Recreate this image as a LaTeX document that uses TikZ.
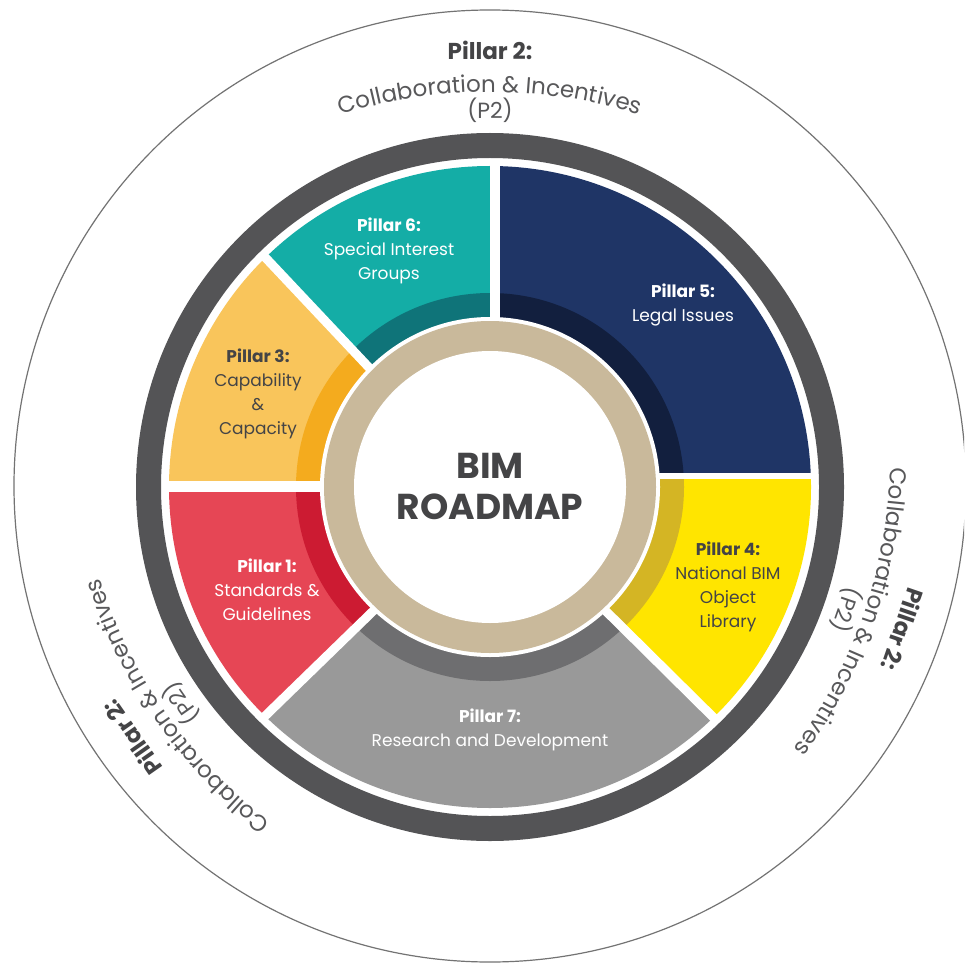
\documentclass[tikz,border=0pt]{standalone}
\usepackage{fontspec}
\setmainfont{Poppins}
\usetikzlibrary{decorations.text}
\definecolor{cteal}{HTML}{14ADA6}
\definecolor{ctealD}{HTML}{0F7479}
\definecolor{cnavy}{HTML}{1F3566}
\definecolor{cnavyD}{HTML}{121F3E}
\definecolor{corange}{HTML}{F9C55B}
\definecolor{corangeD}{HTML}{F4AB1E}
\definecolor{cred}{HTML}{E64655}
\definecolor{credD}{HTML}{CC1B32}
\definecolor{cgray}{HTML}{999999}
\definecolor{cgrayD}{HTML}{6E6E70}
\definecolor{cyellow}{HTML}{FFE500}
\definecolor{cyellowD}{HTML}{D4B524}
\definecolor{cbeige}{HTML}{C9B99B}
\definecolor{cring}{HTML}{545456}
\definecolor{ctext}{HTML}{444446}
\definecolor{ctextB}{HTML}{58585A}
\newcommand\mysector[3]{\begin{scope}\clip #1;
  \fill[#2] (C) circle[radius=321pt];
  \fill[#3] (C) circle[radius=194pt];\end{scope}}
\newcommand\outerblock{%
  \node[font=\bfseries\fontsize{23}{23}\selectfont, text=ctext, inner sep=0] (p2a\blk) at (0,437) {Pillar 2:};
  \path[decorate, decoration={text along path, text align=center,
     text={|\fontsize{23}{23}\selectfont\color{ctextB}|Collaboration {\&} Incentives}}]
     (-171.0,364.8) arc[start angle=110, end angle=70, radius=500];
  \node[font=\fontsize{22}{22}\selectfont, text=ctextB, inner sep=0] (p2b\blk) at (0,377) {(P2)};}
\tikzset{lbl/.style={align=center, font=\fontsize{17}{24}\selectfont, inner sep=0}}
\begin{document}
\begin{tikzpicture}[x=1pt,y=-1pt]
\useasboundingbox (0,0) rectangle (964,965);
\clip (0,0) rectangle (964,965);
\fill[white] (0,0) rectangle (964,965);
\coordinate (C) at (490,487);
% sectors
\mysector{(495,337) -- (495,-200) -- (1200,-200) -- (1200,475.5) -- (640,475.5) -- cycle}{cnavy}{cnavyD}
\mysector{(640,475.5) -- (1200,475.5) -- (1200,1200) -- (1135,1135) -- (578.5,584) -- cycle}{cyellow}{cyellowD}
\mysector{(578.5,584) -- (1135,1135) -- (-158,1127) -- (404,581) -- cycle}{cgray}{cgrayD}
\mysector{(404,581) -- (-158,1127) -- (-300,486) -- (340,486) -- cycle}{cred}{credD}
\mysector{(340,486) -- (-300,486) -- (-122,-154) -- (392,392) -- cycle}{corange}{corangeD}
\mysector{(392,392) -- (-122,-154) -- (495,-200) -- (495,337) -- cycle}{cteal}{ctealD}
% gaps
\draw[white, line width=10pt] (495,337) -- (495,163);
\draw[white, line width=6pt] (640,475.5) -- (815,475.5);
\draw[white, line width=11pt] (340,486) -- (165,486);
\draw[white, line width=9pt] (392,392) -- (263,255);
\draw[white, line width=9pt] (404,581) -- (262,719);
\draw[white, line width=9pt] (578.5,584) -- (716,720);
% centre rings
\fill[white] (C) circle[radius=170pt];
\fill[cbeige] (C) circle[radius=166pt];
\fill[white] (C) circle[radius=136pt];
\draw[cring, line width=25pt] (C) circle[radius=341.5pt];
\draw[black!55, line width=1.2pt] (490,486) circle[radius=476pt];
% centre title
\node[align=center, font=\bfseries\fontsize{36}{41}\selectfont, text=ctext, inner sep=0] (title) at (490,486) {BIM\\ROADMAP};
% labels
\node[lbl, text=white] (p6) at (389,251) {\textbf{Pillar 6:}\\Special Interest\\Groups};
\node[lbl, text=white] (p5) at (683,305) {\textbf{Pillar 5:}\\Legal Issues};
\node[lbl, text=ctext] (p3) at (258,394) {\textbf{Pillar 3:}\\Capability\\\&\\Capacity};
\node[lbl, text=white] (p1) at (267,590) {\textbf{Pillar 1:}\\Standards \&\\Guidelines};
\node[lbl, text=ctext] (p4) at (728,587) {\textbf{Pillar 4:}\\National BIM\\Object\\Library};
\node[lbl, text=white] (p7) at (490,730) {\textbf{Pillar 7:}\\Research and Development};
% outer blocks
\begin{scope}[shift={(C)}, x=1pt, y=1pt, transform shape]
\def\blk{t}\outerblock
\end{scope}
\begin{scope}[shift={(C)}, x=1pt, y=1pt, rotate=-109, transform shape]
\def\blk{r}\outerblock
\end{scope}
\begin{scope}[shift={(C)}, x=1pt, y=1pt, rotate=125, transform shape]
\def\blk{l}\outerblock
\end{scope}
\end{tikzpicture}
\end{document}
